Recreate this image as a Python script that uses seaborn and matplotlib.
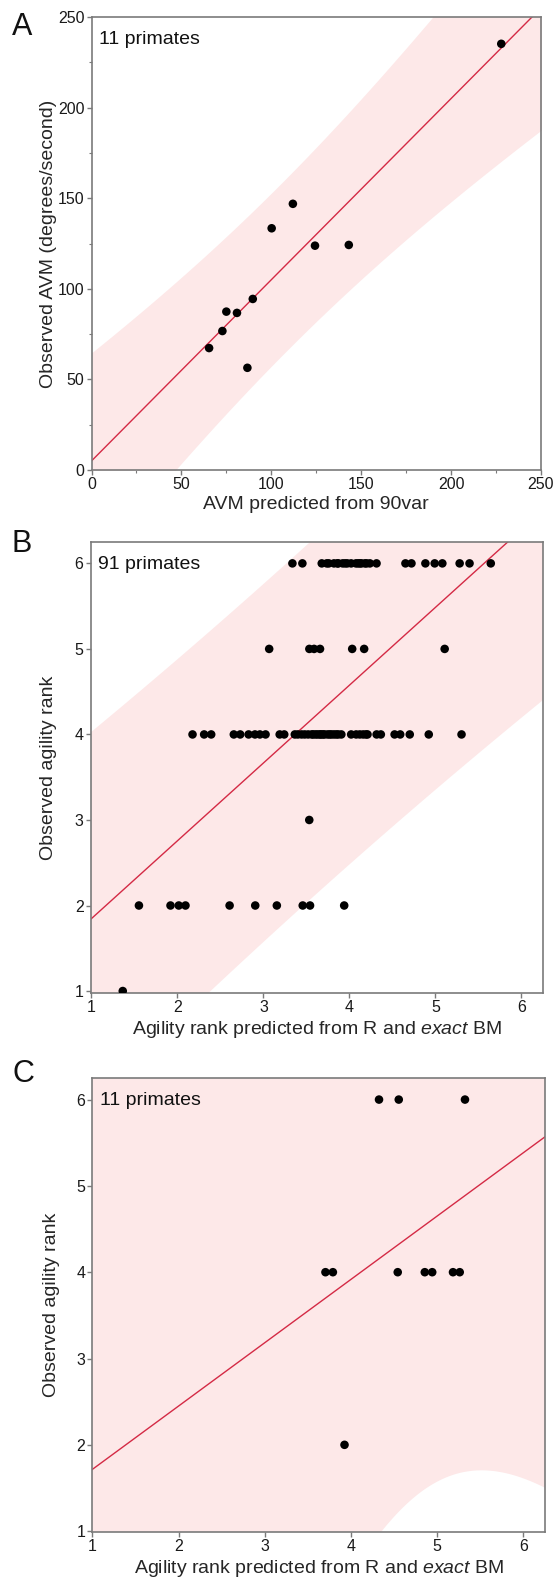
import numpy as np
import pandas as pd
import matplotlib
matplotlib.use("Agg")
import matplotlib.pyplot as plt
import seaborn as sns
from matplotlib.ticker import MultipleLocator

# ---------------- data ----------------
# Panel A: 11 primates, AVM (degrees/second)
a_pred = [227.9, 112.0, 100.2, 124.3, 143.1, 89.7, 75.0, 80.9, 72.8, 65.4, 86.7]
a_obs = [235.2, 146.9, 133.4, 123.8, 124.2, 94.4, 87.4, 86.7, 76.7, 67.3, 56.4]
a_fit = (5.0, 1.0)            # intercept, slope of the drawn fit
a_band = (47.7, 107.0, 0.112)  # half-width at centre, centre x, curvature

# Panel B: 91 primates, predicted agility rank grouped by observed rank
b_pred_rank6 = [3.337, 3.453, 3.678, 3.736, 3.76, 3.820, 3.86, 3.870, 3.921, 3.95,
                3.975, 4.02, 4.075, 4.10, 4.122, 4.14, 4.180, 4.20, 4.238, 4.315,
                4.651, 4.721, 4.883, 4.991, 5.080, 5.281, 5.396, 5.643]
b_pred_rank5 = [3.067, 3.534, 3.589, 3.658, 4.032, 4.171, 5.107]
b_pred_rank4 = [2.176, 2.311, 2.393, 2.656, 2.730, 2.828, 2.902, 2.959, 3.025, 3.189,
                3.242, 3.365, 3.40, 3.443, 3.480, 3.52, 3.561, 3.58, 3.607, 3.63,
                3.656, 3.67, 3.693, 3.71, 3.746, 3.77, 3.791, 3.82, 3.848, 3.87,
                3.906, 4.020, 4.078, 4.12, 4.160, 4.193, 4.21, 4.316, 4.365, 4.525,
                4.590, 4.701, 4.922, 5.303]
b_pred_rank3 = [3.533]
b_pred_rank2 = [1.553, 1.920, 2.016, 2.094, 2.607, 2.905, 3.156, 3.457, 3.542, 3.939]
b_pred_rank1 = [1.365]
b_fit = (0.936, 0.91)
b_band = (2.09, 3.4, 0.07)

# Panel C: 11 primates
c_pred_rank6 = [4.325, 4.554, 5.322]
c_pred_rank4 = [3.704, 3.790, 4.542, 4.856, 4.942, 5.183, 5.261]
c_pred_rank2 = [3.925]
c_fit = (0.981, 0.734)
c_band = (3.059, 4.82, 3.51)

# ---------------- style ----------------
sns.set_theme(style="ticks")
plt.rcParams["font.family"] = ["Liberation Sans", "DejaVu Sans"]
plt.rcParams["mathtext.fontset"] = "custom"
plt.rcParams["mathtext.rm"] = "Liberation Sans"
plt.rcParams["mathtext.it"] = "Liberation Sans:italic"
plt.rcParams["axes.edgecolor"] = "#7a7a7a"
plt.rcParams["axes.linewidth"] = 1.2
plt.rcParams["xtick.color"] = "#7a7a7a"
plt.rcParams["ytick.color"] = "#7a7a7a"
plt.rcParams["xtick.labelcolor"] = "#1a1a1a"
plt.rcParams["ytick.labelcolor"] = "#1a1a1a"

BAND = "#fde8e8"
LINE = "#d42a45"
LABEL_FS = 14
TICK_FS = 11.5

W, H = 553, 1577
fig = plt.figure(figsize=(W / 100, H / 100), dpi=100)


def px_axes(left, top, right, bottom):
    return fig.add_axes([left / W, 1 - bottom / H, (right - left) / W, (bottom - top) / H])


def draw_panel(ax, pred, obs, fit, band, xlim, ylim, n_label):
    xs = np.linspace(xlim[0] - 1, xlim[1] + 1, 400)
    line = fit[0] + fit[1] * xs
    half = np.sqrt(band[0] ** 2 + band[2] * (xs - band[1]) ** 2)
    ax.fill_between(xs, line - half, line + half, color=BAND, lw=0, zorder=1)
    sns.lineplot(x=xs, y=line, color=LINE, lw=1.0, ax=ax, zorder=2)
    df = pd.DataFrame({"pred": pred, "obs": obs})
    sns.scatterplot(data=df, x="pred", y="obs", color="black", s=38,
                    edgecolor="none", ax=ax, zorder=3)
    ax.set_xlim(*xlim)
    ax.set_ylim(*ylim)
    ax.text(0.017, 0.969, n_label, transform=ax.transAxes, ha="left", va="top",
            fontsize=14, color="#111111")
    for s in ax.spines.values():
        s.set_visible(True)
    ax.tick_params(axis="both", which="major", direction="out", length=3.5,
                   width=1.0, labelsize=TICK_FS, pad=1.5)
    ax.tick_params(axis="both", which="minor", direction="out", length=2.5, width=0.8)


# Panel A
axA = px_axes(91.5, 17, 541, 470)
draw_panel(axA, a_pred, a_obs, a_fit, a_band, (0, 250), (0, 250), "11 primates")
axA.xaxis.set_major_locator(MultipleLocator(50))
axA.yaxis.set_major_locator(MultipleLocator(50))
axA.xaxis.set_minor_locator(MultipleLocator(25))
axA.yaxis.set_minor_locator(MultipleLocator(25))
axA.set_xlabel("AVM predicted from 90var", fontsize=LABEL_FS, labelpad=3)
axA.set_ylabel("Observed AVM (degrees/second)", fontsize=LABEL_FS, labelpad=1)

XLAB = "Agility rank predicted from R and $\\mathit{exact}$ BM"

# Panel B
b_pred = b_pred_rank6 + b_pred_rank5 + b_pred_rank4 + b_pred_rank3 + b_pred_rank2 + b_pred_rank1
b_obs = ([6] * len(b_pred_rank6) + [5] * len(b_pred_rank5) + [4] * len(b_pred_rank4)
         + [3] * len(b_pred_rank3) + [2] * len(b_pred_rank2) + [1] * len(b_pred_rank1))
axB = px_axes(90.5, 542, 543, 993)
draw_panel(axB, b_pred, b_obs, b_fit, b_band, (0.99, 6.25), (0.977, 6.25), "91 primates")
axB.set_xticks([1, 2, 3, 4, 5, 6])
axB.set_yticks([1, 2, 3, 4, 5, 6])
axB.set_xlabel(XLAB, fontsize=LABEL_FS, labelpad=3)
axB.set_ylabel("Observed agility rank", fontsize=LABEL_FS, labelpad=12.5)

# Panel C
c_pred = c_pred_rank6 + c_pred_rank4 + c_pred_rank2
c_obs = [6] * len(c_pred_rank6) + [4] * len(c_pred_rank4) + [2] * len(c_pred_rank2)
axC = px_axes(92.3, 1078, 545, 1532)
draw_panel(axC, c_pred, c_obs, c_fit, c_band, (1.0, 6.25), (0.99, 6.25), "11 primates")
axC.set_xticks([1, 2, 3, 4, 5, 6])
axC.set_yticks([1, 2, 3, 4, 5, 6])
axC.set_xlabel(XLAB, fontsize=LABEL_FS, labelpad=3)
axC.set_ylabel("Observed agility rank", fontsize=LABEL_FS, labelpad=12)

# panel letters
for letter, top in (("A", 12), ("B", 529), ("C", 1059)):
    fig.text(12 / W, 1 - top / H, letter, fontsize=22, ha="left", va="top", color="#111111")

fig.savefig("out.png", dpi=100)
